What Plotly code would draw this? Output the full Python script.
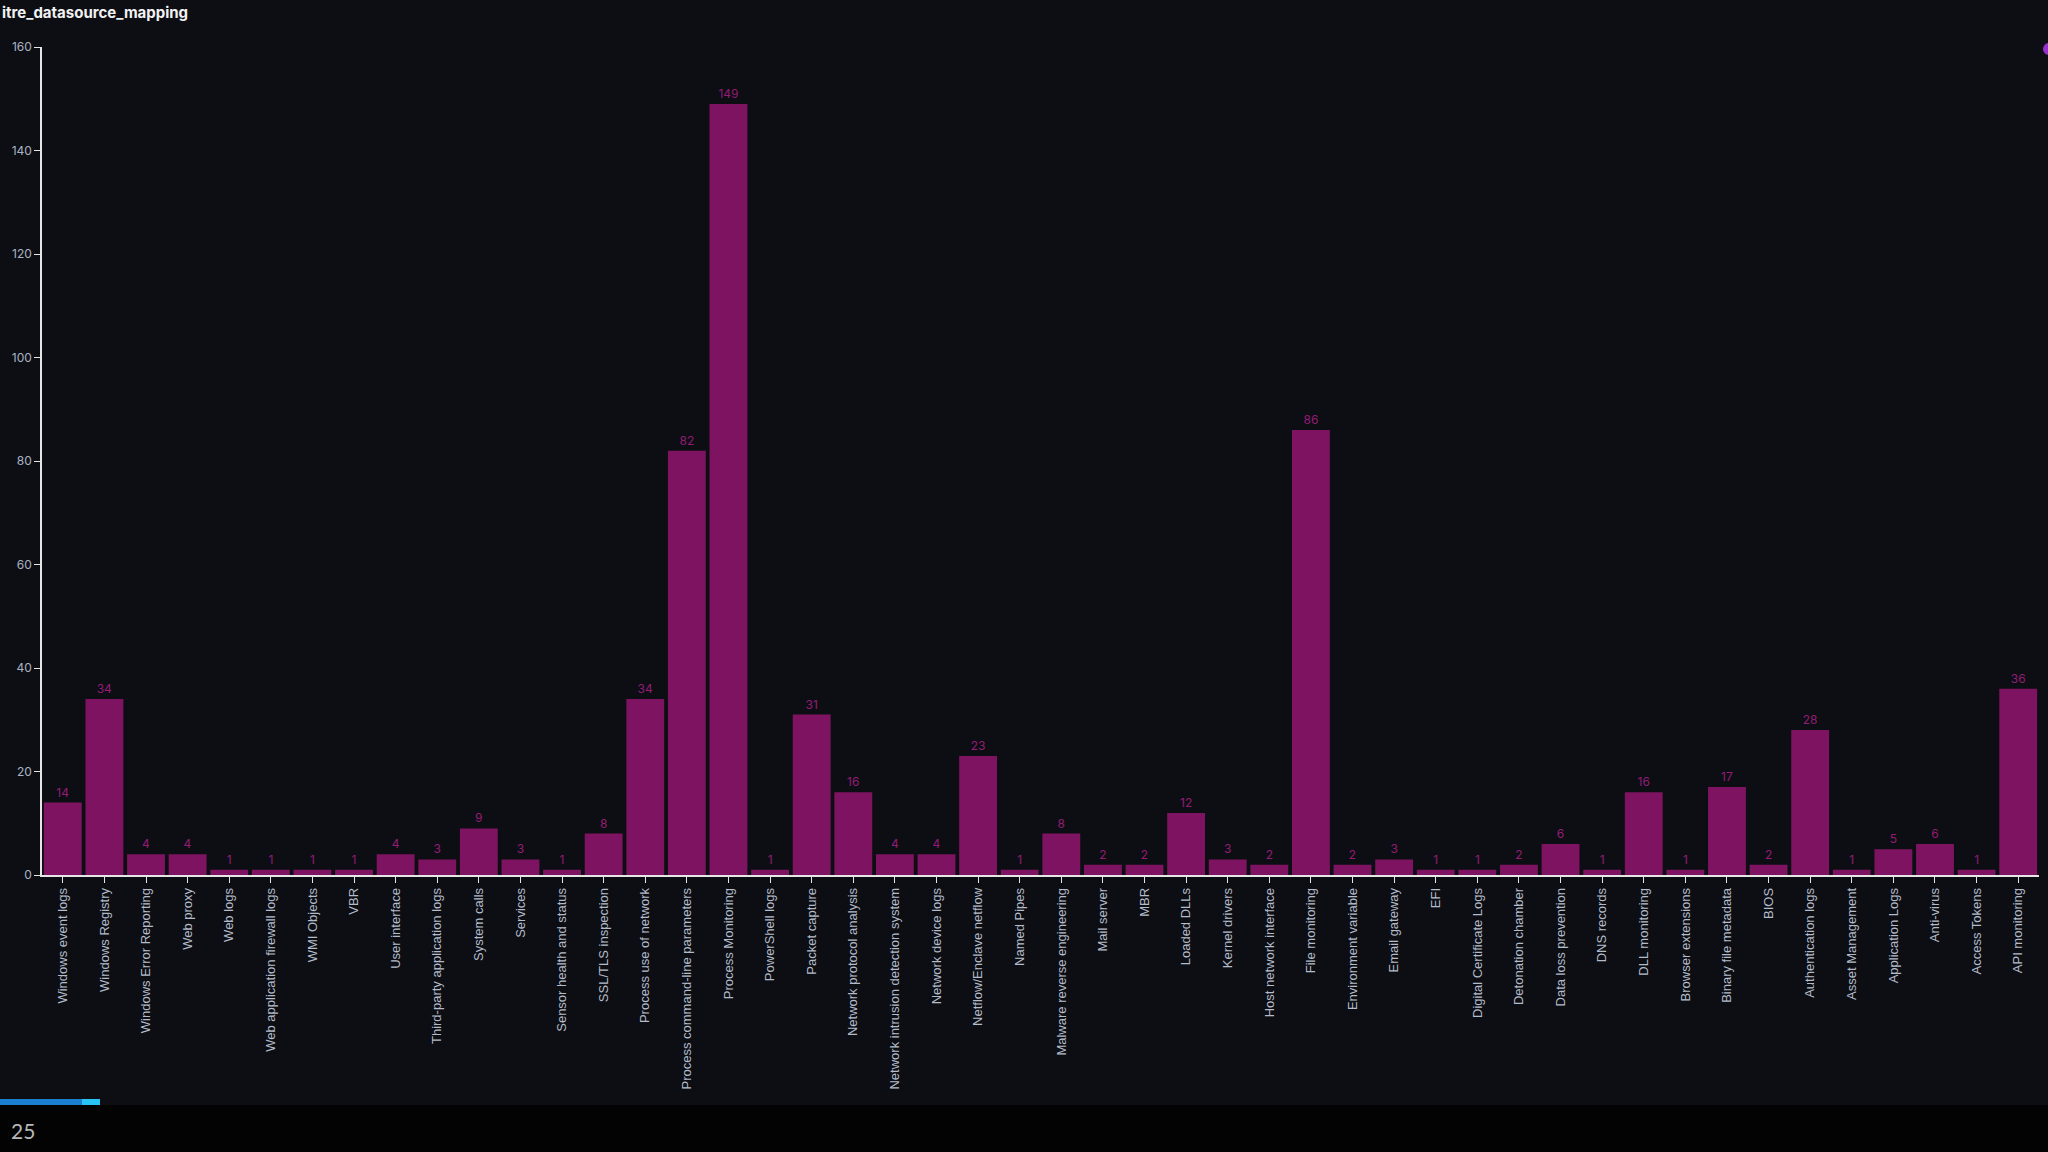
import plotly.graph_objects as go

categories = [
    "Windows event logs", "Windows Registry", "Windows Error Reporting", "Web proxy",
    "Web logs", "Web application firewall logs", "WMI Objects", "VBR", "User interface",
    "Third-party application logs", "System calls", "Services", "Sensor health and status",
    "SSL/TLS inspection", "Process use of network", "Process command-line parameters",
    "Process Monitoring", "PowerShell logs", "Packet capture", "Network protocol analysis",
    "Network intrusion detection system", "Network device logs", "Netflow/Enclave netflow",
    "Named Pipes", "Malware reverse engineering", "Mail server", "MBR", "Loaded DLLs",
    "Kernel drivers", "Host network interface", "File monitoring", "Environment variable",
    "Email gateway", "EFI", "Digital Certificate Logs", "Detonation chamber",
    "Data loss prevention", "DNS records", "DLL monitoring", "Browser extensions",
    "Binary file metadata", "BIOS", "Authentication logs", "Asset Management",
    "Application Logs", "Anti-virus", "Access Tokens", "API monitoring",
]
counts = [
    14, 34, 4, 4, 1, 1, 1, 1, 4, 3, 9, 3, 1, 8, 34, 82, 149, 1, 31, 16, 4, 4, 23,
    1, 8, 2, 2, 12, 3, 2, 86, 2, 3, 1, 1, 2, 6, 1, 16, 1, 17, 2, 28, 1, 5, 6, 1, 36,
]
y_ticks = [0, 20, 40, 60, 80, 100, 120, 140, 160]
title_text = "itre_datasource_mapping"
footer_text = "25"

W, H = 2048, 1152
ML, MR, MT, MB = 42, 9, 47, 277

fig = go.Figure(
    go.Bar(
        x=categories,
        y=counts,
        marker=dict(color="#7e1461", line=dict(width=0)),
        text=[str(v) for v in counts],
        textposition="outside",
        textfont=dict(family="Inter, Arial, sans-serif", size=12, color="#931c76"),
        cliponaxis=False,
        hoverinfo="x+y",
    )
)

fig.update_layout(
    width=W,
    height=H,
    margin=dict(l=ML, r=MR, t=MT, b=MB, pad=0),
    paper_bgcolor="#0d0e13",
    plot_bgcolor="#0d0e13",
    bargap=0.09,
    showlegend=False,
    font=dict(family="Arial, Liberation Sans, sans-serif", color="#b4bccb"),
    xaxis=dict(
        type="category",
        tickangle=-90,
        showgrid=False,
        zeroline=False,
        showline=True,
        linecolor="#e6e6e6",
        linewidth=1.5,
        ticks="outside",
        ticklen=6,
        tickcolor="#e6e6e6",
        tickfont=dict(size=13, color="#b4bccb", family="Arial, Liberation Sans, sans-serif"),
        automargin=False,
    ),
    yaxis=dict(
        range=[0, 160],
        tickvals=y_ticks,
        showgrid=False,
        zeroline=False,
        showline=True,
        linecolor="#e6e6e6",
        linewidth=1.5,
        ticks="outside",
        ticklen=6,
        tickcolor="#e6e6e6",
        tickfont=dict(size=12, color="#a9b3c4", family="Inter, Arial, sans-serif"),
        automargin=False,
    ),
)

# px helpers in paper coords
def px_x(p):
    return (p - ML) / (W - ML - MR)

def px_y(p):
    return (H - MB - p) / (H - MT - MB)

shapes = [
    # bottom black strip
    dict(type="rect", xref="paper", yref="paper", x0=px_x(0), x1=px_x(W),
         y0=px_y(H), y1=px_y(1105), fillcolor="#030304", line=dict(width=0), layer="below"),
    # progress bar
    dict(type="rect", xref="paper", yref="paper", x0=px_x(0), x1=px_x(82),
         y0=px_y(1105), y1=px_y(1099), fillcolor="#1b7fd2", line=dict(width=0)),
    dict(type="rect", xref="paper", yref="paper", x0=px_x(82), x1=px_x(100),
         y0=px_y(1105), y1=px_y(1099), fillcolor="#27c3f2", line=dict(width=0)),
    # small dot at top right
    dict(type="circle", xref="paper", yref="paper", x0=px_x(2043), x1=px_x(2055),
         y0=px_y(55), y1=px_y(43), fillcolor="#9a2fd0", line=dict(width=0)),
]
fig.update_layout(shapes=shapes)

fig.add_annotation(
    text=f"<b>{title_text}</b>", xref="paper", yref="paper",
    x=px_x(0), y=px_y(12), xanchor="left", yanchor="middle",
    showarrow=False, font=dict(size=15, color="#f2f2f2", family="Inter, Arial, sans-serif"),
)
fig.add_annotation(
    text=footer_text, xref="paper", yref="paper",
    x=px_x(9), y=px_y(1130), xanchor="left", yanchor="middle",
    showarrow=False, font=dict(size=21, color="#b8b8b8", family="Lato, Open Sans, sans-serif"),
)

fig.write_html(
    "out.html",
    config={"displayModeBar": False},
    post_script="document.body.style.margin='0';document.body.style.background='#030304';document.body.style.overflow='hidden';",
)
